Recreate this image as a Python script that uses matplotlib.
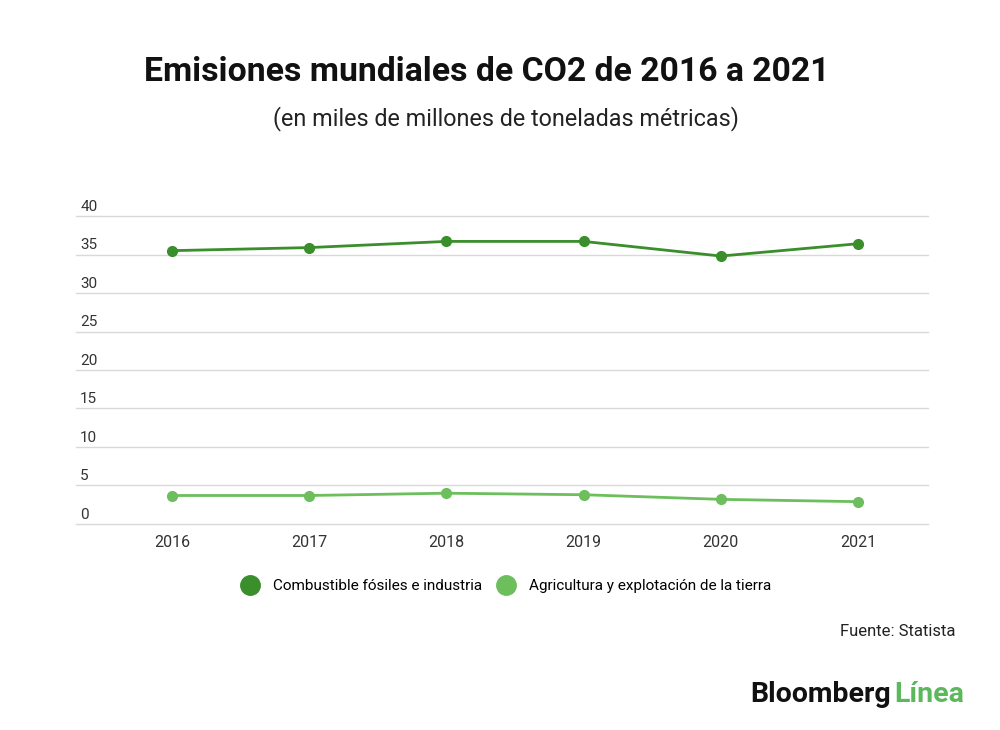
import matplotlib
matplotlib.use("Agg")
import matplotlib.pyplot as plt
from matplotlib.lines import Line2D
from matplotlib.transforms import offset_copy

plt.rcParams['font.family'] = ['Roboto', 'DejaVu Sans']

years = ["2016", "2017", "2018", "2019", "2020", "2021"]
fossil = [35.5, 35.9, 36.7, 36.7, 34.8, 36.4]
agri = [3.7, 3.7, 4.0, 3.8, 3.2, 2.9]
yticks = [0, 5, 10, 15, 20, 25, 30, 35, 40]
series_names = ["Combustible fósiles e industria", "Agricultura y explotación de la tierra"]

dark = "#3a8e2c"
light = "#6cbf5c"

fig = plt.figure(figsize=(10, 7.3), dpi=100)
ax = fig.add_axes([0.076, 0.2822, 0.852, 0.4219])
x = list(range(len(years)))
ax.plot(x, fossil, color=dark, lw=2, marker='o', ms=7, zorder=3)
ax.plot(x, agri, color=light, lw=2, marker='o', ms=7, zorder=3)
ax.set_xlim(-0.70, 5.51)
ax.set_ylim(0, 40)
ax.set_yticks(yticks)
ax.yaxis.grid(True, color="#d9d9d9", lw=1)
for gl in ax.get_ygridlines():
    gl.set_clip_on(False)
ax.set_axisbelow(True)
for s in ax.spines.values():
    s.set_visible(False)
ax.tick_params(axis='y', length=0, labelleft=False)
for t in yticks:
    ax.annotate(str(t), xy=(0, t), xycoords=('axes fraction', 'data'),
                xytext=(3, 1.5), textcoords='offset points', ha='left', va='bottom',
                fontsize=11, color="#333333")
ax.set_xticks(x)
ax.set_xticklabels(years, fontsize=11.5, color="#333333")
ax.tick_params(axis='x', length=0, pad=8)

fig.text(0.487, 0.902, "Emisiones mundiales de CO2 de 2016 a 2021", ha='center', va='center',
         fontsize=24.3, fontweight='bold', color="#111111")
fig.text(0.506, 0.838, "(en miles de millones de toneladas métricas)", ha='center', va='center',
         fontsize=16.8, color="#222222")

handles = [Line2D([], [], ls='none', marker='o', ms=14, color=dark),
           Line2D([], [], ls='none', marker='o', ms=14, color=light)]
fig.legend(handles, series_names, loc='center', bbox_to_anchor=(0.503, 0.197), ncol=2,
           frameon=False, fontsize=11, handletextpad=0.5, columnspacing=0.6)

fig.text(0.955, 0.135, "Fuente: Statista", ha='right', va='center', fontsize=12, color="#222222")
t1 = fig.text(0.75, 0.048, "Bloomberg", ha='left', va='center', fontsize=20.5,
              fontweight='bold', color="#111111")
fig.canvas.draw()
bb = t1.get_window_extent()
x_end = bb.x1 / fig.bbox.width
fig.text(x_end + 0.004, 0.048, "Línea", ha='left', va='center', fontsize=20.5,
         fontweight='bold', color="#5cb85c")

fig.savefig("out.png", dpi=100, facecolor='white')
